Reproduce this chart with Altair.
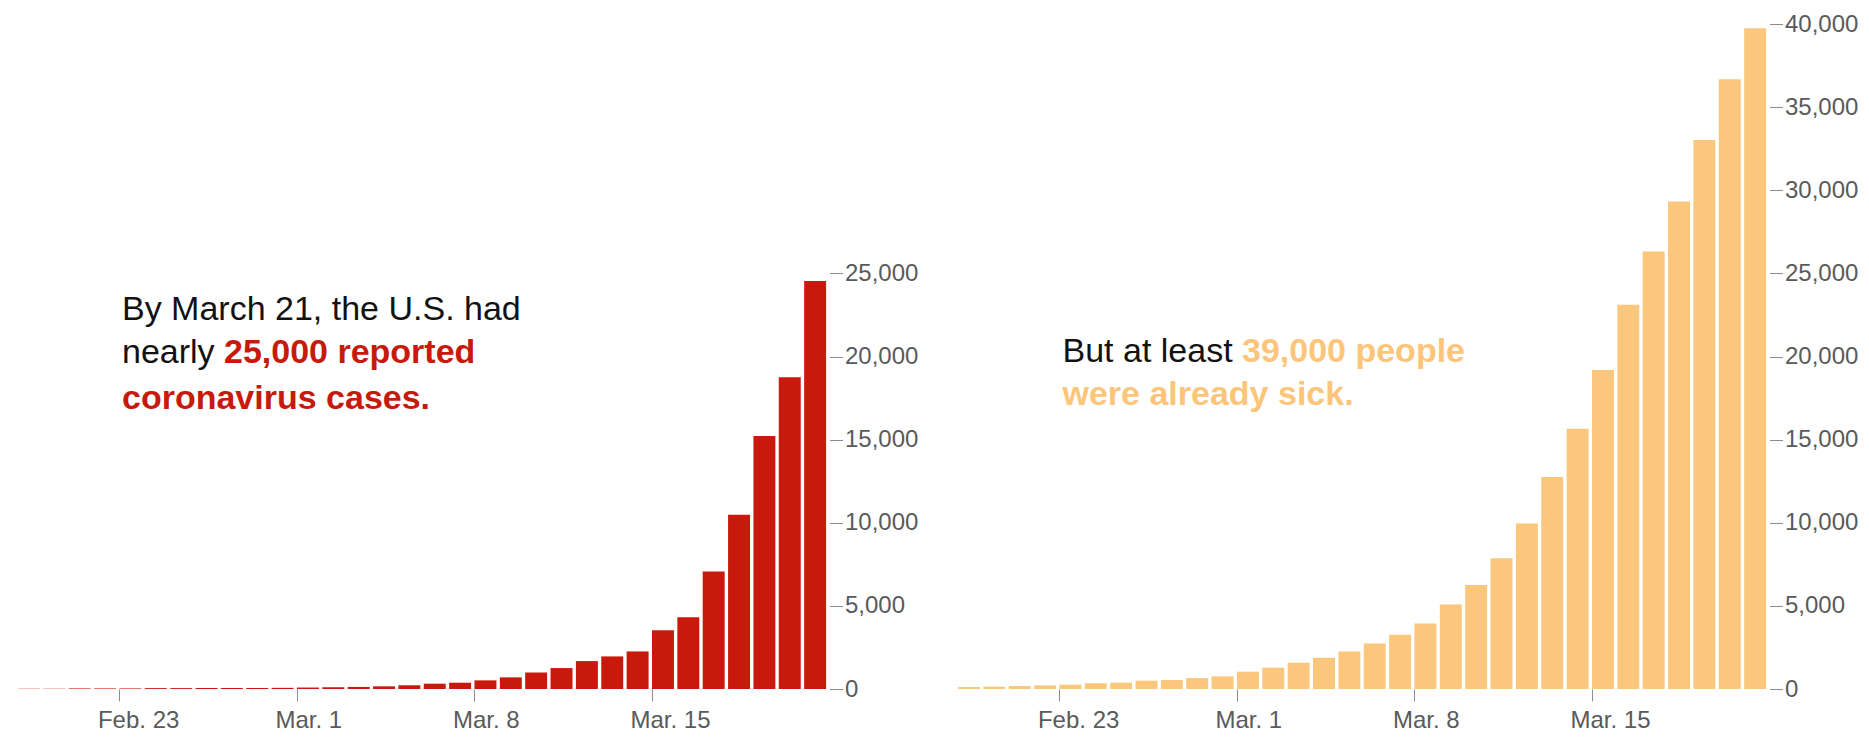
import altair as alt
import pandas as pd

# ---- data ----
dates = [
    "2020-02-19", "2020-02-20", "2020-02-21", "2020-02-22", "2020-02-23",
    "2020-02-24", "2020-02-25", "2020-02-26", "2020-02-27", "2020-02-28",
    "2020-02-29", "2020-03-01", "2020-03-02", "2020-03-03", "2020-03-04",
    "2020-03-05", "2020-03-06", "2020-03-07", "2020-03-08", "2020-03-09",
    "2020-03-10", "2020-03-11", "2020-03-12", "2020-03-13", "2020-03-14",
    "2020-03-15", "2020-03-16", "2020-03-17", "2020-03-18", "2020-03-19",
    "2020-03-20", "2020-03-21",
]
reported = [
    15, 15, 35, 35, 35, 53, 53, 59, 60, 62, 70,
    88, 105, 125, 160, 225, 320, 380, 520, 700, 1000, 1260, 1680, 1960,
    2260, 3530, 4310, 7070, 10480, 15220, 18750, 24540,
]
estimated = [
    120, 140, 180, 220, 260, 340, 380, 500, 540, 660, 760,
    1040, 1280, 1580, 1880, 2260, 2740, 3260, 3940, 5080, 6260, 7860, 9960,
    12750, 15660, 19190, 23120, 26310, 29320, 33030, 36670, 39750,
]
domain_end = "2020-03-22"
tick_dates = ["2020-02-23", "2020-03-01", "2020-03-08", "2020-03-15"]
left_ticks = [0, 5000, 10000, 15000, 20000, 25000]
right_ticks = [0, 5000, 10000, 15000, 20000, 25000, 30000, 35000, 40000]
y_max = 40000

df = pd.DataFrame({"date": dates, "reported": reported, "estimated": estimated})

FONT = "Liberation Sans"
RED = "#c71a0c"
ORANGE = "#fbc77d"
ORANGE_TEXT = "#fcc57a"
INK = "#121212"
AXIS_TEXT = "#5a5a5a"


def dt(s):
    y, m, d = (int(p) for p in s.split("-"))
    return alt.DateTime(year=y, month=m, date=d, utc=True)


def label(text, x, y, color, weight="normal"):
    return alt.Chart(pd.DataFrame({"t": [text]})).mark_text(
        align="left", baseline="alphabetic", font=FONT, fontSize=34,
        fontWeight=weight, color=color,
    ).encode(x=alt.value(x), y=alt.value(y), text="t:N")


def panel(field, color, yticks):
    x_axis = alt.Axis(
        values=[dt(s) for s in tick_dates],
        labelExpr="utcFormat(datum.value, '%b. %-d')",
        domain=False, grid=False, tickSize=12, tickColor="#8c8c8c",
        labelAlign="left", labelOffset=-22, labelPadding=7,
        labelFontSize=24, labelColor=AXIS_TEXT, title=None,
    )
    y_axis = alt.Axis(
        orient="right", values=yticks, format=",d", domain=False, grid=False,
        tickSize=13, tickColor="#8c8c8c", labelPadding=2,
        labelFontSize=24, labelColor=AXIS_TEXT, title=None,
    )
    return alt.Chart(df).transform_calculate(
        end="utcOffset('day', toDate(datum.date), 1)"
    ).mark_bar(color=color, x2Offset=-3.4).encode(
        x=alt.X("date:T", axis=x_axis,
                scale=alt.Scale(type="utc", domain=[dt(dates[0]), dt(domain_end)], nice=False)),
        x2="end:T",
        y=alt.Y(f"{field}:Q", axis=y_axis,
                scale=alt.Scale(domain=[0, y_max], nice=False)),
        y2=alt.datum(0),
    )


W, H = 811.5, 665

left = alt.layer(
    panel("reported", RED, left_ticks),
    label("By March 21, the U.S. had", 104, 295.5, INK),
    label("nearly ", 104, 339, INK),
    label("25,000 reported", 206, 339, RED, "bold"),
    label("coronavirus cases.", 104, 384.5, RED, "bold"),
).properties(width=W, height=H)

right = alt.layer(
    panel("estimated", ORANGE, right_ticks),
    label("But at least ", 104.5, 338, INK),
    label("39,000 people", 284, 338, ORANGE_TEXT, "bold"),
    label("were already sick.", 104.5, 380.5, ORANGE_TEXT, "bold"),
).properties(width=W, height=H)

chart = alt.hconcat(left, right, spacing=40).properties(
    padding={"left": 10, "top": 4, "right": 0, "bottom": 0}
).configure_view(strokeWidth=0).configure_axis(labelFont=FONT)

chart.save("out.html", embed_options={"renderer": "svg", "actions": False})
